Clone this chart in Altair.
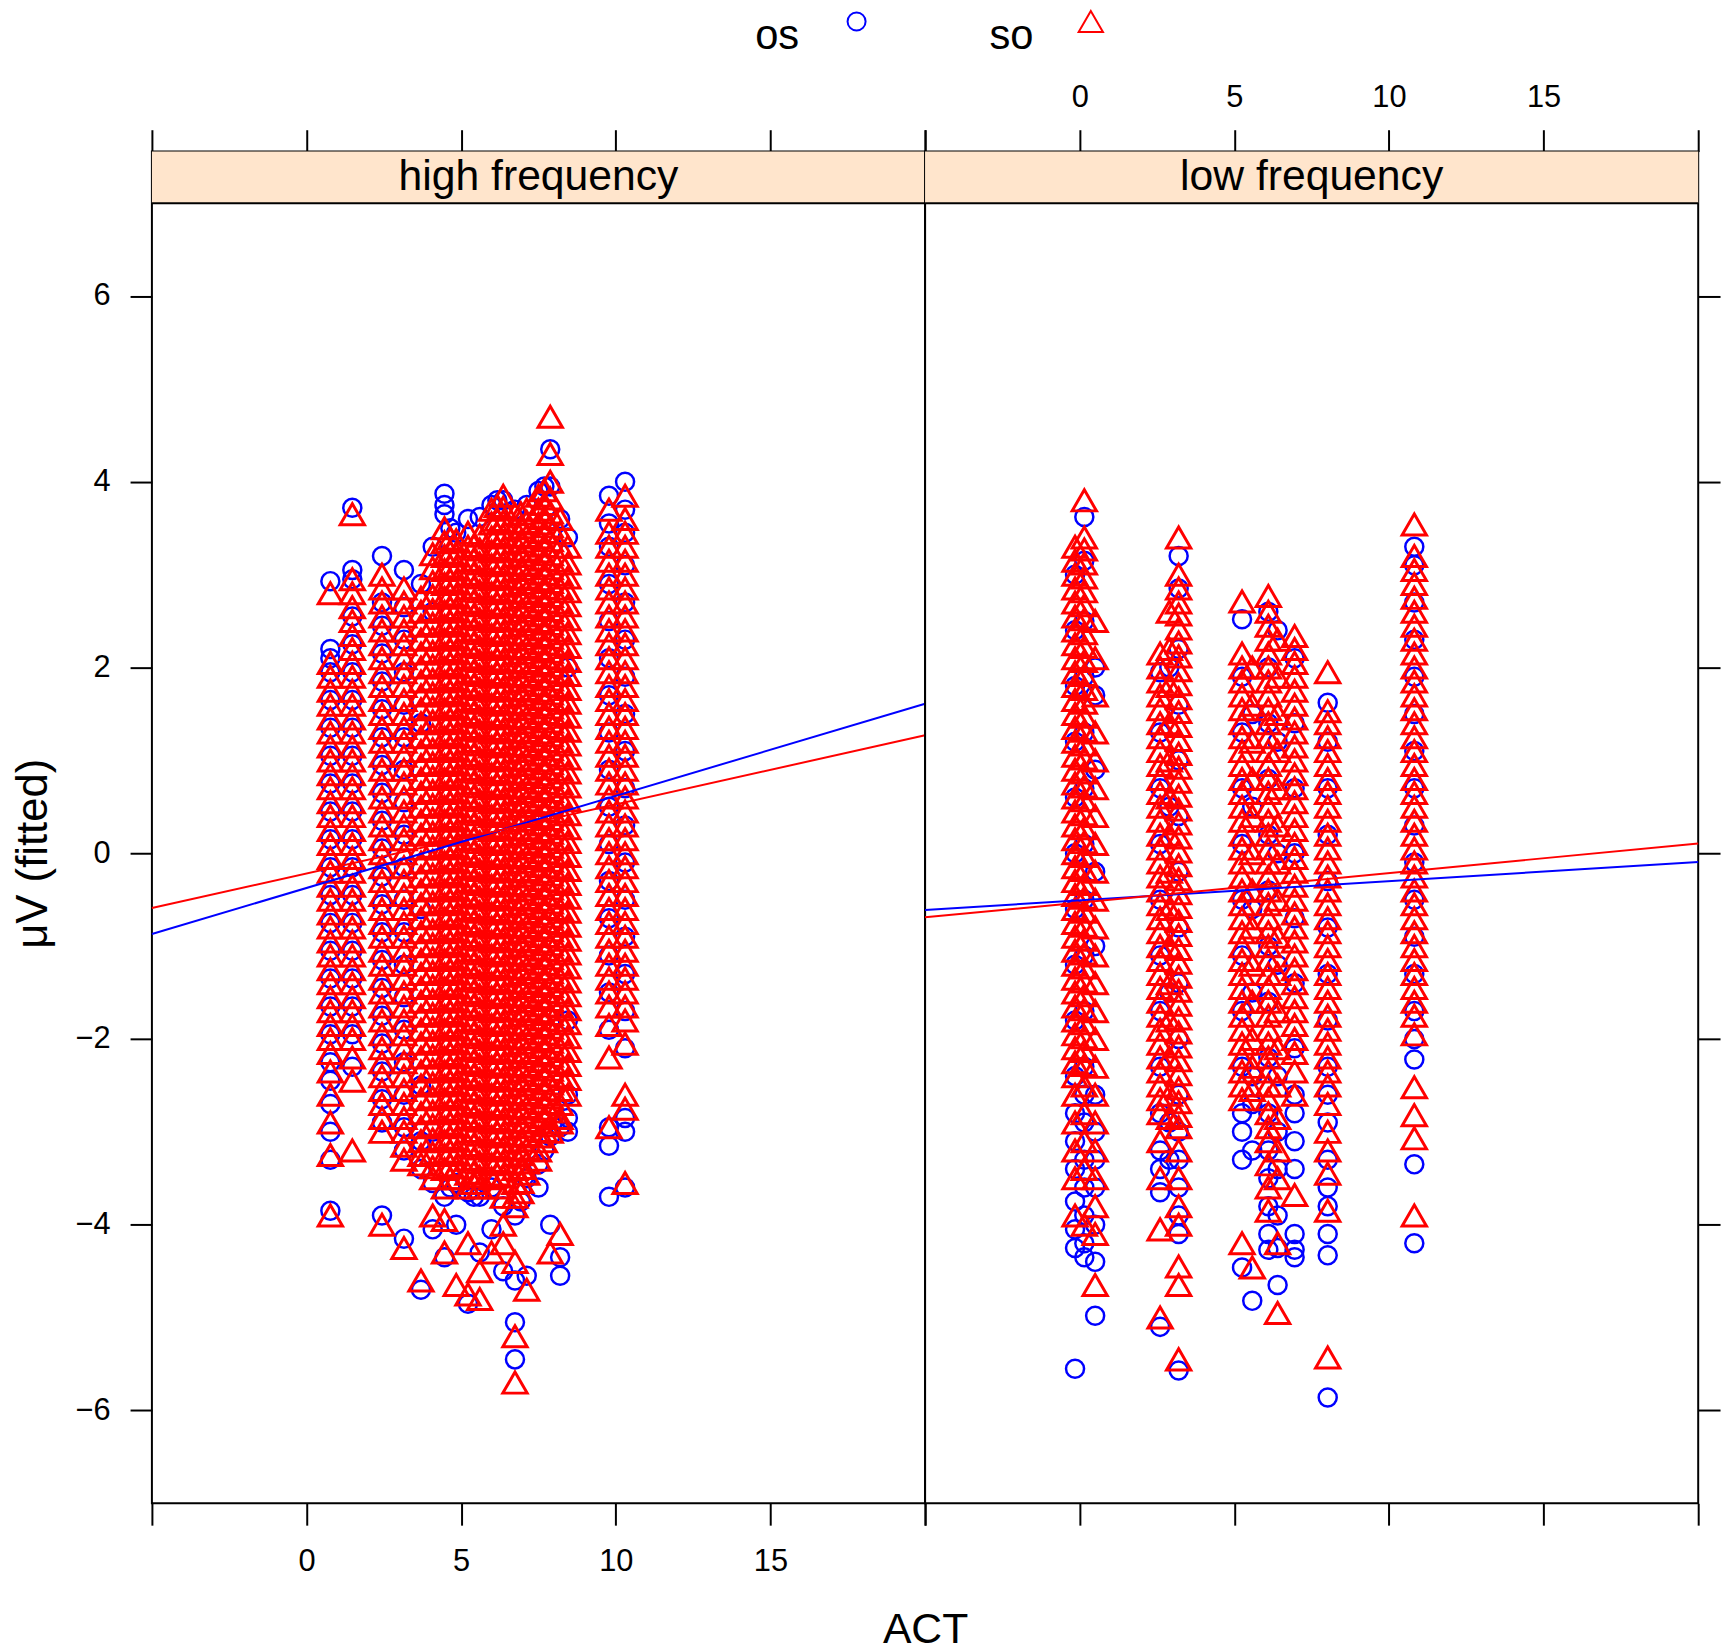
import altair as alt
import pandas as pd

FONT = "Liberation Sans"
BLUE = "#0000FF"
RED = "#FF0000"
STRIP_FILL = "#FFE5CC"

GROUPS = ["os", "so"]
SHAPES = ["circle", "triangle-up"]
COLORS = [BLUE, RED]
SIZES = [330, 600]
PANEL_NAMES = ["high frequency", "low frequency"]
X_TITLE = "ACT"
Y_TITLE = "μV (fitted)"

X_DOMAIN = [-5, 20]
Y_DOMAIN = [-7, 7]
X_TICKS = [-5, 0, 5, 10, 15, 20]
X_LABELLED = [0, 15]
Y_TICKS = [-6, -4, -2, 0, 2, 4, 6]

# ---------------- high frequency panel: ACT column positions and fitted µV values ----------------
HF_X = [0.77, 1.48, 2.44, 3.15, 3.7, 4.08, 4.46, 4.84, 5.22, 5.6, 5.98, 6.36, 6.74, 7.12,
        7.5, 7.88, 8.2, 8.45, 9.78, 10.3,
        4.65, 5.41, 6.17, 6.93, 7.69]
HF_OS = [
    [2.93, 2.2, 2.1, 1.95, 1.65, 1.35, 1.05, 0.75, 0.45, 0.15, -0.15, -0.45, -0.75, -1.05,
     -1.35, -1.65, -1.95, -2.25, -2.45, -2.7, -3.0, -3.3, -3.85],
    [3.72, 3.05, 2.95, 2.55, 2.25, 1.95, 1.65, 1.35, 1.05, 0.75, 0.45, 0.15, -0.15, -0.45,
     -0.75, -1.05, -1.35, -1.65, -1.95, -2.3],
    [3.2, 2.7, 2.45, 2.15, 1.85, 1.55, 1.25, 0.95, 0.65, 0.35, 0.05, -0.25, -0.55, -0.85, -1.15,
     -1.45, -1.75, -2.05, -2.35, -2.65, -2.9, -3.9],
    [3.05, 2.65, 2.3, 1.95, 1.6, 1.25, 0.9, 0.55, 0.2, -0.15, -0.5, -0.85, -1.2, -1.55, -1.9,
     -2.25, -2.6, -2.95, -3.2, -4.15],
    [2.9, 1.4, -0.6, -2.5, -3.1, -3.4, -4.7],
    [3.3, 2.6, -3.0, -3.55, -4.05],
    [3.87, 3.75, 3.65, -3.7, -4.35],
    [3.45, -3.55, -4.0],
    [3.6, -3.65, -4.85],
    [3.62, -3.7, -4.3],
    [3.75, -3.6, -4.05],
    [3.8, -3.8, -4.5],
    [3.7, -3.9, -4.6, -5.05, -5.45],
    [3.75, -3.5, -4.55],
    [3.9, -3.35, -3.6],
    [4.35, 3.95, -3.05, -4.0],
    [3.6, -2.95, -4.35, -4.55],
    [3.4, 2.0, -1.8, -2.6, -2.85, -3.0],
    [3.85, 3.55, 3.3, 2.9, 2.5, 2.1, 1.7, 1.3, 0.9, 0.5, 0.1, -0.3, -0.7, -1.1, -1.5, -1.9,
     -2.95, -3.15, -3.7],
    [4.0, 3.7, 3.45, 3.1, 2.7, 2.3, 1.9, 1.5, 1.1, 0.7, 0.3, -0.1, -0.5, -0.9, -1.3, -1.7, -2.1,
     -2.85, -3.0, -3.6],
    [3.5, -3.6],
    [-3.7],
    [3.8],
    [-3.75],
    [3.95, -3.2],
]
HF_SO = [
    [2.8, 2.05, 1.9, 1.75, 1.6, 1.45, 1.3, 1.15, 1.0, 0.85, 0.7, 0.55, 0.4, 0.25, 0.1, -0.05,
     -0.2, -0.35, -0.5, -0.65, -0.8, -0.95, -1.1, -1.25, -1.4, -1.55, -1.7, -1.85, -2.0, -2.15,
     -2.35, -2.6, -2.9, -3.25, -3.9],
    [3.65, 2.95, 2.8, 2.65, 2.5, 2.35, 2.2, 2.05, 1.9, 1.75, 1.6, 1.45, 1.3, 1.15, 1.0, 0.85,
     0.7, 0.55, 0.4, 0.25, 0.1, -0.05, -0.2, -0.35, -0.5, -0.65, -0.8, -0.95, -1.1, -1.25, -1.4,
     -1.55, -1.7, -1.85, -2.0, -2.2, -2.45, -3.2],
    [3.0, 2.85, 2.7, 2.55, 2.4, 2.25, 2.1, 1.95, 1.8, 1.65, 1.5, 1.35, 1.2, 1.05, 0.9, 0.75, 0.6,
     0.45, 0.3, 0.15, 0.0, -0.15, -0.3, -0.45, -0.6, -0.75, -0.9, -1.05, -1.2, -1.35, -1.5,
     -1.65, -1.8, -1.95, -2.1, -2.25, -2.4, -2.55, -2.7, -2.85, -3.0, -4.0],
    [2.85, 2.7, 2.55, 2.4, 2.25, 2.1, 1.95, 1.8, 1.65, 1.5, 1.35, 1.2, 1.05, 0.9, 0.75, 0.6, 0.45,
     0.3, 0.15, 0.0, -0.15, -0.3, -0.45, -0.6, -0.75, -0.9, -1.05, -1.2, -1.35, -1.5, -1.65,
     -1.8, -1.95, -2.1, -2.25, -2.4, -2.55, -2.7, -2.85, -3.0, -3.15, -3.3, -4.25],
    [2.75, 2.6, 2.45, 2.3, 2.15, 2.0, 1.85, 1.7, 1.55, 1.4, 1.25, 1.1, 0.95, 0.8, 0.65, 0.5, 0.35,
     0.2, 0.05, -0.1, -0.25, -0.4, -0.55, -0.7, -0.85, -1.0, -1.15, -1.3, -1.45, -1.6, -1.75,
     -1.9, -2.05, -2.2, -2.35, -2.5, -2.65, -2.8, -2.95, -3.1, -3.25, -3.35, -4.6],
    [3.22, 3.07, 2.92, 2.77, 2.62, 2.47, 2.32, 2.17, 2.02, 1.87, 1.72, 1.57, 1.42, 1.27, 1.12,
     0.97, 0.82, 0.67, 0.52, 0.37, 0.22, 0.07, -0.08, -0.23, -0.38, -0.53, -0.68, -0.83, -0.98,
     -1.13, -1.28, -1.43, -1.58, -1.73, -1.88, -2.03, -2.18, -2.33, -2.48, -2.63, -2.78, -2.93,
     -3.08, -3.23, -3.38, -3.5, -3.9],
    [3.5, 3.35, 3.2, 3.05, 2.9, 2.75, 2.6, 2.45, 2.3, 2.15, 2.0, 1.85, 1.7, 1.55, 1.4, 1.25, 1.1,
     0.95, 0.8, 0.65, 0.5, 0.35, 0.2, 0.05, -0.1, -0.25, -0.4, -0.55, -0.7, -0.85, -1.0, -1.15,
     -1.3, -1.45, -1.6, -1.75, -1.9, -2.05, -2.2, -2.35, -2.5, -2.65, -2.8, -2.95, -3.1, -3.25,
     -3.4, -3.6, -3.95, -4.3],
    [3.37, 3.22, 3.07, 2.92, 2.77, 2.62, 2.47, 2.32, 2.17, 2.02, 1.87, 1.72, 1.57, 1.42, 1.27,
     1.12, 0.97, 0.82, 0.67, 0.52, 0.37, 0.22, 0.07, -0.08, -0.23, -0.38, -0.53, -0.68, -0.83,
     -0.98, -1.13, -1.28, -1.43, -1.58, -1.73, -1.88, -2.03, -2.18, -2.33, -2.48, -2.63, -2.78,
     -2.93, -3.08, -3.23, -3.38, -3.5, -4.65],
    [3.45, 3.3, 3.15, 3.0, 2.85, 2.7, 2.55, 2.4, 2.25, 2.1, 1.95, 1.8, 1.65, 1.5, 1.35, 1.2, 1.05,
     0.9, 0.75, 0.6, 0.45, 0.3, 0.15, 0.0, -0.15, -0.3, -0.45, -0.6, -0.75, -0.9, -1.05, -1.2,
     -1.35, -1.5, -1.65, -1.8, -1.95, -2.1, -2.25, -2.4, -2.55, -2.7, -2.85, -3.0, -3.15, -3.3,
     -3.45, -3.6, -4.2, -4.75],
    [3.42, 3.27, 3.12, 2.97, 2.82, 2.67, 2.52, 2.37, 2.22, 2.07, 1.92, 1.77, 1.62, 1.47, 1.32,
     1.17, 1.02, 0.87, 0.72, 0.57, 0.42, 0.27, 0.12, -0.03, -0.18, -0.33, -0.48, -0.63, -0.78,
     -0.93, -1.08, -1.23, -1.38, -1.53, -1.68, -1.83, -1.98, -2.13, -2.28, -2.43, -2.58, -2.73,
     -2.88, -3.03, -3.18, -3.33, -3.48, -3.6, -4.5, -4.8],
    [3.7, 3.55, 3.4, 3.25, 3.1, 2.95, 2.8, 2.65, 2.5, 2.35, 2.2, 2.05, 1.9, 1.75, 1.6, 1.45, 1.3,
     1.15, 1.0, 0.85, 0.7, 0.55, 0.4, 0.25, 0.1, -0.05, -0.2, -0.35, -0.5, -0.65, -0.8, -0.95,
     -1.1, -1.25, -1.4, -1.55, -1.7, -1.85, -2.0, -2.15, -2.3, -2.45, -2.6, -2.75, -2.9, -3.05,
     -3.2, -3.35, -3.5, -4.3],
    [3.85, 3.72, 3.57, 3.42, 3.27, 3.12, 2.97, 2.82, 2.67, 2.52, 2.37, 2.22, 2.07, 1.92, 1.77,
     1.62, 1.47, 1.32, 1.17, 1.02, 0.87, 0.72, 0.57, 0.42, 0.27, 0.12, -0.03, -0.18, -0.33,
     -0.48, -0.63, -0.78, -0.93, -1.08, -1.23, -1.38, -1.53, -1.68, -1.83, -1.98, -2.13, -2.28,
     -2.43, -2.58, -2.73, -2.88, -3.03, -3.18, -3.33, -3.48, -3.7, -4.0, -4.2],
    [3.65, 3.5, 3.35, 3.2, 3.05, 2.9, 2.75, 2.6, 2.45, 2.3, 2.15, 2.0, 1.85, 1.7, 1.55, 1.4, 1.25,
     1.1, 0.95, 0.8, 0.65, 0.5, 0.35, 0.2, 0.05, -0.1, -0.25, -0.4, -0.55, -0.7, -0.85, -1.0,
     -1.15, -1.3, -1.45, -1.6, -1.75, -1.9, -2.05, -2.2, -2.35, -2.5, -2.65, -2.8, -2.95, -3.1,
     -3.25, -3.4, -3.55, -3.7, -3.8, -4.4, -5.2, -5.7],
    [3.7, 3.57, 3.42, 3.27, 3.12, 2.97, 2.82, 2.67, 2.52, 2.37, 2.22, 2.07, 1.92, 1.77, 1.62,
     1.47, 1.32, 1.17, 1.02, 0.87, 0.72, 0.57, 0.42, 0.27, 0.12, -0.03, -0.18, -0.33, -0.48,
     -0.63, -0.78, -0.93, -1.08, -1.23, -1.38, -1.53, -1.68, -1.83, -1.98, -2.13, -2.28, -2.43,
     -2.58, -2.73, -2.88, -3.03, -3.18, -3.33, -3.45, -4.7],
    [3.85, 3.7, 3.55, 3.4, 3.25, 3.1, 2.95, 2.8, 2.65, 2.5, 2.35, 2.2, 2.05, 1.9, 1.75, 1.6, 1.45,
     1.3, 1.15, 1.0, 0.85, 0.7, 0.55, 0.4, 0.25, 0.1, -0.05, -0.2, -0.35, -0.5, -0.65, -0.8,
     -0.95, -1.1, -1.25, -1.4, -1.55, -1.7, -1.85, -2.0, -2.15, -2.3, -2.45, -2.6, -2.75, -2.9,
     -3.05, -3.2, -3.3],
    [4.7, 4.3, 4.0, 3.82, 3.67, 3.52, 3.37, 3.22, 3.07, 2.92, 2.77, 2.62, 2.47, 2.32, 2.17, 2.02,
     1.87, 1.72, 1.57, 1.42, 1.27, 1.12, 0.97, 0.82, 0.67, 0.52, 0.37, 0.22, 0.07, -0.08, -0.23,
     -0.38, -0.53, -0.68, -0.83, -0.98, -1.13, -1.28, -1.43, -1.58, -1.73, -1.88, -2.03, -2.18,
     -2.33, -2.48, -2.63, -2.78, -2.93, -3.0, -4.3],
    [3.6, 3.45, 3.3, 3.15, 3.0, 2.85, 2.7, 2.55, 2.4, 2.25, 2.1, 1.95, 1.8, 1.65, 1.5, 1.35, 1.2,
     1.05, 0.9, 0.75, 0.6, 0.45, 0.3, 0.15, 0.0, -0.15, -0.3, -0.45, -0.6, -0.75, -0.9, -1.05,
     -1.2, -1.35, -1.5, -1.65, -1.8, -1.95, -2.1, -2.25, -2.4, -2.55, -2.7, -2.85, -2.9, -4.1],
    [3.3, 3.12, 2.97, 2.82, 2.67, 2.52, 2.37, 2.22, 2.07, 1.92, 1.77, 1.62, 1.47, 1.32, 1.17,
     1.02, 0.87, 0.72, 0.57, 0.42, 0.27, 0.12, -0.03, -0.18, -0.33, -0.48, -0.63, -0.78, -0.93,
     -1.08, -1.23, -1.38, -1.53, -1.68, -1.83, -1.98, -2.13, -2.28, -2.43, -2.6],
    [3.7, 3.45, 3.3, 3.15, 3.0, 2.85, 2.7, 2.55, 2.4, 2.25, 2.1, 1.95, 1.8, 1.65, 1.5, 1.35, 1.2,
     1.05, 0.9, 0.75, 0.6, 0.45, 0.3, 0.15, 0.0, -0.15, -0.3, -0.45, -0.6, -0.75, -0.9, -1.05,
     -1.2, -1.35, -1.5, -1.65, -1.85, -2.2, -2.95],
    [3.85, 3.6, 3.45, 3.3, 3.15, 3.0, 2.85, 2.7, 2.55, 2.4, 2.25, 2.1, 1.95, 1.8, 1.65, 1.5, 1.35,
     1.2, 1.05, 0.9, 0.75, 0.6, 0.45, 0.3, 0.15, 0.0, -0.15, -0.3, -0.45, -0.6, -0.75, -0.9,
     -1.05, -1.2, -1.35, -1.5, -1.65, -1.8, -2.05, -2.6, -2.75, -3.55],
    # in-between columns of the dense cloud
    [3.39, 3.24, 3.09, 2.94, 2.79, 2.64, 2.49, 2.34, 2.19, 2.04, 1.89, 1.74, 1.59, 1.44, 1.29,
     1.14, 0.99, 0.84, 0.69, 0.54, 0.39, 0.24, 0.09, -0.06, -0.21, -0.36, -0.51, -0.66, -0.81,
     -0.96, -1.11, -1.26, -1.41, -1.56, -1.71, -1.86, -2.01, -2.16, -2.31, -2.46, -2.61, -2.76,
     -2.91, -3.06, -3.21, -3.36, -3.5],
    [3.31, 3.16, 3.01, 2.86, 2.71, 2.56, 2.41, 2.26, 2.11, 1.96, 1.81, 1.66, 1.51, 1.36, 1.21,
     1.06, 0.91, 0.76, 0.61, 0.46, 0.31, 0.16, 0.01, -0.14, -0.29, -0.44, -0.59, -0.74, -0.89,
     -1.04, -1.19, -1.34, -1.49, -1.64, -1.79, -1.94, -2.09, -2.24, -2.39, -2.54, -2.69, -2.84,
     -2.99, -3.14, -3.29, -3.44, -3.55],
    [3.74, 3.59, 3.44, 3.29, 3.14, 2.99, 2.84, 2.69, 2.54, 2.39, 2.24, 2.09, 1.94, 1.79, 1.64,
     1.49, 1.34, 1.19, 1.04, 0.89, 0.74, 0.59, 0.44, 0.29, 0.14, -0.01, -0.16, -0.31, -0.46,
     -0.61, -0.76, -0.91, -1.06, -1.21, -1.36, -1.51, -1.66, -1.81, -1.96, -2.11, -2.26, -2.41,
     -2.56, -2.71, -2.86, -3.01, -3.16, -3.31, -3.46, -3.6],
    [3.66, 3.51, 3.36, 3.21, 3.06, 2.91, 2.76, 2.61, 2.46, 2.31, 2.16, 2.01, 1.86, 1.71, 1.56,
     1.41, 1.26, 1.11, 0.96, 0.81, 0.66, 0.51, 0.36, 0.21, 0.06, -0.09, -0.24, -0.39, -0.54,
     -0.69, -0.84, -0.99, -1.14, -1.29, -1.44, -1.59, -1.74, -1.89, -2.04, -2.19, -2.34, -2.49,
     -2.64, -2.79, -2.94, -3.09, -3.24, -3.39, -3.54, -3.65],
    [3.91, 3.76, 3.61, 3.46, 3.31, 3.16, 3.01, 2.86, 2.71, 2.56, 2.41, 2.26, 2.11, 1.96, 1.81,
     1.66, 1.51, 1.36, 1.21, 1.06, 0.91, 0.76, 0.61, 0.46, 0.31, 0.16, 0.01, -0.14, -0.29, -0.44,
     -0.59, -0.74, -0.89, -1.04, -1.19, -1.34, -1.49, -1.64, -1.79, -1.94, -2.09, -2.24, -2.39,
     -2.54, -2.69, -2.84, -2.99, -3.1],
]

# ---------------- low frequency panel ----------------
LF_X = [-0.15, 0.15, 0.5, 2.6, 2.9, 3.2, 5.25, 5.58, 6.1, 6.4, 6.95, 8.02, 10.82]
LF_OS = [
    [3.0, 2.4, 1.8, 1.2, 0.6, 0.0, -0.6, -1.2, -1.8, -2.4, -2.8, -3.1, -3.4, -3.75, -4.05, -4.25,
     -5.55],
    [3.62, 3.15, 2.5, 1.9, 1.3, 0.7, 0.1, -0.5, -1.1, -1.7, -2.3, -2.6, -2.9, -3.3, -3.6, -3.9,
     -4.2, -4.35],
    [2.0, 1.7, 0.9, -0.2, -1.0, -2.6, -3.0, -3.3, -3.6, -4.0, -4.4, -4.98],
    [1.95, 1.3, 0.7, 0.1, -0.5, -1.1, -1.7, -2.3, -2.8, -3.2, -3.4, -3.65, -5.1],
    [2.0, 0.5, -1.5, -2.9, -3.3],
    [3.2, 2.85, 2.2, 1.6, 1.0, 0.4, -0.2, -0.8, -1.4, -2.0, -2.6, -3.0, -3.3, -3.6, -3.9, -4.1,
     -5.57],
    [2.52, 1.9, 1.3, 0.7, 0.1, -0.5, -1.1, -1.7, -2.3, -2.8, -3.0, -3.3, -4.46],
    [1.5, 0.5, -0.6, -1.5, -2.4, -2.7, -3.2, -4.82],
    [2.6, 2.0, 1.4, 0.8, 0.2, -0.4, -1.0, -1.6, -2.2, -2.8, -3.2, -3.5, -3.8, -4.1, -4.27],
    [2.4, 1.2, 0.0, -1.2, -2.4, -3.0, -3.4, -3.9, -4.25, -4.65],
    [2.1, 1.4, 0.7, 0.0, -0.7, -1.4, -2.1, -2.6, -2.8, -3.1, -3.4, -4.1, -4.27, -4.35],
    [1.62, 1.2, 0.7, 0.2, -0.3, -0.8, -1.3, -1.8, -2.3, -2.6, -2.9, -3.3, -3.6, -3.8, -4.1, -4.33,
     -5.86],
    [3.3, 3.1, 2.7, 2.3, 1.9, 1.5, 1.1, 0.7, 0.3, -0.1, -0.5, -0.9, -1.3, -1.7, -2.0, -2.22,
     -3.35, -4.2],
]
LF_SO = [
    [3.3, 3.15, 3.0, 2.85, 2.7, 2.55, 2.4, 2.25, 2.1, 1.95, 1.8, 1.65, 1.5, 1.35, 1.2, 1.05, 0.9,
     0.75, 0.6, 0.45, 0.3, 0.15, 0.0, -0.15, -0.3, -0.45, -0.6, -0.75, -0.9, -1.05, -1.2, -1.35,
     -1.5, -1.65, -1.8, -1.95, -2.1, -2.25, -2.4, -2.6, -2.9, -3.2, -3.5, -3.9],
    [3.8, 3.4, 3.27, 3.12, 2.97, 2.82, 2.67, 2.52, 2.37, 2.22, 2.07, 1.92, 1.77, 1.62, 1.47, 1.32,
     1.17, 1.02, 0.87, 0.72, 0.57, 0.42, 0.27, 0.12, -0.03, -0.18, -0.33, -0.48, -0.63, -0.78,
     -0.93, -1.08, -1.23, -1.38, -1.53, -1.68, -1.83, -1.98, -2.13, -2.28, -2.5, -2.8, -3.1,
     -3.4, -4.0],
    [2.5, 2.1, 1.7, 1.3, 1.0, 0.7, 0.4, 0.1, -0.2, -0.5, -0.8, -1.1, -1.4, -1.7, -2.0, -2.3, -2.6,
     -2.9, -3.2, -3.5, -3.8, -4.1, -4.65],
    [2.15, 2.0, 1.85, 1.7, 1.55, 1.4, 1.25, 1.1, 0.95, 0.8, 0.65, 0.5, 0.35, 0.2, 0.05, -0.1,
     -0.25, -0.4, -0.55, -0.7, -0.85, -1.0, -1.15, -1.3, -1.45, -1.6, -1.75, -1.9, -2.05, -2.2,
     -2.35, -2.5, -2.65, -2.8, -3.1, -3.5, -4.05, -5.0],
    [2.6, 2.2, 1.8, 1.4, 1.0, 0.6, 0.2, -0.2, -0.6, -1.0, -1.4, -1.8, -2.2, -2.6, -2.85],
    [3.4, 3.0, 2.85, 2.7, 2.57, 2.42, 2.27, 2.12, 1.97, 1.82, 1.67, 1.52, 1.37, 1.22, 1.07, 0.92,
     0.77, 0.62, 0.47, 0.32, 0.17, 0.02, -0.13, -0.28, -0.43, -0.58, -0.73, -0.88, -1.03, -1.18,
     -1.33, -1.48, -1.63, -1.78, -1.93, -2.08, -2.23, -2.38, -2.53, -2.68, -2.83, -2.95, -3.2,
     -3.5, -3.8, -4.0, -4.45, -4.65, -5.45],
    [2.71, 2.15, 2.0, 1.85, 1.7, 1.55, 1.4, 1.25, 1.1, 0.95, 0.8, 0.65, 0.5, 0.35, 0.2, 0.05,
     -0.1, -0.25, -0.4, -0.55, -0.7, -0.85, -1.0, -1.15, -1.3, -1.45, -1.6, -1.75, -1.9, -2.05,
     -2.2, -2.35, -2.5, -2.65, -4.2],
    [2.0, 1.6, 1.2, 0.8, 0.4, 0.0, -0.4, -0.8, -1.2, -1.6, -2.0, -2.3, -2.55, -4.46],
    [2.77, 2.6, 2.45, 2.3, 2.15, 2.0, 1.85, 1.7, 1.55, 1.4, 1.25, 1.1, 0.95, 0.8, 0.65, 0.5, 0.35,
     0.2, 0.05, -0.1, -0.25, -0.4, -0.55, -0.7, -0.85, -1.0, -1.15, -1.3, -1.45, -1.6, -1.75,
     -1.9, -2.05, -2.2, -2.35, -2.5, -2.65, -2.8, -2.95, -3.1, -3.35, -3.6, -3.85],
    [2.3, 1.9, 1.5, 1.1, 0.7, 0.3, -0.1, -0.5, -0.9, -1.3, -1.7, -2.1, -2.5, -2.85, -3.2, -3.5,
     -4.2, -4.95],
    [2.34, 2.2, 2.05, 1.9, 1.75, 1.6, 1.45, 1.3, 1.15, 1.0, 0.85, 0.7, 0.55, 0.4, 0.25, 0.1,
     -0.05, -0.2, -0.35, -0.5, -0.65, -0.8, -0.95, -1.1, -1.25, -1.4, -1.55, -1.7, -1.85, -2.0,
     -2.15, -2.35, -2.6, -3.68],
    [1.95, 1.53, 1.4, 1.25, 1.1, 0.95, 0.8, 0.65, 0.5, 0.35, 0.2, 0.05, -0.1, -0.25, -0.4, -0.55,
     -0.7, -0.85, -1.0, -1.15, -1.3, -1.45, -1.6, -1.75, -1.9, -2.05, -2.2, -2.35, -2.5, -2.7,
     -3.0, -3.2, -3.45, -3.85, -5.43],
    [3.54, 3.2, 3.05, 2.9, 2.75, 2.6, 2.45, 2.3, 2.15, 2.0, 1.85, 1.7, 1.55, 1.4, 1.25, 1.1, 0.95,
     0.8, 0.65, 0.5, 0.35, 0.2, 0.05, -0.1, -0.25, -0.4, -0.55, -0.7, -0.85, -1.0, -1.15, -1.3,
     -1.45, -1.6, -1.75, -1.95, -2.52, -2.82, -3.07, -3.9],
]

# fitted regression lines, values at ACT = -5 and ACT = 20
LINE_X = [-5, 20]
HF_LINE_OS = [-0.87, 1.61]
HF_LINE_SO = [-0.59, 1.27]
LF_LINE_OS = [-0.61, -0.095]
LF_LINE_SO = [-0.69, 0.105]

# ---------------- layout ----------------
PANEL_W = 779
PANEL_H = 1310
STRIP_PX = 52
PX_PER_Y = PANEL_H / (Y_DOMAIN[1] - Y_DOMAIN[0])
STRIP_UNITS = STRIP_PX / PX_PER_Y
VIEW_H = PANEL_H + STRIP_PX
TICK = 22
TICK_FONT = 31
BIG_FONT = 43
MARK_STROKE = 3


def make_points(xs, os_lists, so_lists):
    rows = []
    for x, a, b in zip(xs, os_lists, so_lists):
        rows += [(x, v, "os") for v in a]
        rows += [(x, v, "so") for v in b]
    return pd.DataFrame(rows, columns=["ACT", "uV", "grp"])


def make_panel(name, pts, line_os, line_so, first):
    xsc = alt.Scale(domain=X_DOMAIN, nice=False, zero=False)
    ysc = alt.Scale(domain=[Y_DOMAIN[0], Y_DOMAIN[1] + STRIP_UNITS], nice=False, zero=False)
    label_expr = (f"datum.value >= {X_LABELLED[0]} && datum.value <= {X_LABELLED[1]}"
                  " ? datum.label : ''")
    common = dict(values=X_TICKS, tickSize=TICK, tickWidth=2, tickColor="black", domain=False,
                  grid=False, labelFontSize=TICK_FONT, labelFont=FONT, labelColor="black",
                  labelFlush=False, labelExpr=label_expr)
    if first:
        ax_bottom = alt.Axis(orient="bottom", labels=True, labelPadding=22, title=X_TITLE,
                             titleFont=FONT, titleFontSize=BIG_FONT, titleFontWeight="normal",
                             titleColor="black", titleX=PANEL_W, titleY=127,
                             titleBaseline="middle", titleAlign="center", **common)
    else:
        ax_bottom = alt.Axis(orient="bottom", labels=False, title=None, **common)
    ax_top = alt.Axis(orient="top", labels=not first, labelPadding=16, title=None, **common)
    ycommon = dict(values=Y_TICKS, tickSize=TICK, tickWidth=2, tickColor="black", domain=False,
                   grid=False, labelFontSize=TICK_FONT, labelFont=FONT, labelColor="black",
                   labelPadding=20)
    if first:
        ay = alt.Axis(orient="left", title=Y_TITLE, titleFont=FONT, titleFontSize=44,
                      titleFontWeight="normal", titleColor="black", titleX=-119.5,
                      titleY=STRIP_PX + PANEL_H / 2, titleAngle=270, titleBaseline="middle",
                      titleAlign="center", **ycommon)
        ay_strip = None
    else:
        ay = None
        ay_strip = alt.Axis(orient="right", labels=False, title=None, **ycommon)

    X = alt.X("ACT:Q", scale=xsc, axis=ax_bottom)
    Y = alt.Y("uV:Q", scale=ysc, axis=ay)
    os_pts = alt.Chart(pts[pts.grp == "os"]).mark_point(
        shape=SHAPES[0], size=SIZES[0], filled=False, strokeWidth=MARK_STROKE - 0.5,
        color=COLORS[0], opacity=1
    ).encode(x=X, y=Y)
    so_pts = alt.Chart(pts[pts.grp == "so"]).mark_point(
        shape=SHAPES[1], size=SIZES[1], filled=False, strokeWidth=MARK_STROKE, color=COLORS[1],
        opacity=1
    ).encode(x=X, y=Y)
    line_df = pd.DataFrame({"ACT": LINE_X * 2, "uV": line_os + line_so,
                            "grp": [GROUPS[0]] * 2 + [GROUPS[1]] * 2})
    lines = alt.Chart(line_df).mark_line(strokeWidth=2).encode(
        x=X, y=Y,
        color=alt.Color("grp:N", scale=alt.Scale(domain=GROUPS, range=COLORS), legend=None))

    strip_df = pd.DataFrame({
        "x0": [X_DOMAIN[0]], "x1": [X_DOMAIN[1]], "xc": [sum(X_DOMAIN) / 2],
        "y0": [Y_DOMAIN[1]], "y1": [Y_DOMAIN[1] + STRIP_UNITS],
        "yc": [Y_DOMAIN[1] + STRIP_UNITS / 2], "label": [name]})
    XS = alt.X("x0:Q", scale=xsc, axis=ax_top)
    YS = alt.Y("y0:Q", scale=ysc, axis=ay_strip)
    rect = alt.Chart(strip_df).mark_rect(fill=STRIP_FILL).encode(x=XS, x2="x1", y=YS, y2="y1")
    rule = alt.Chart(strip_df).mark_rule(color="black", strokeWidth=2).encode(x=XS, x2="x1", y=YS)
    txt = alt.Chart(strip_df).mark_text(font=FONT, fontSize=BIG_FONT, color="black",
                                        baseline="middle").encode(
        x=alt.X("xc:Q", scale=xsc, axis=ax_top),
        y=alt.Y("yc:Q", scale=ysc, axis=ay_strip),
        text="label:N")

    main = alt.layer(os_pts, so_pts, lines)
    strip = alt.layer(rect, rule, txt)
    return alt.layer(main, strip).resolve_scale(x="independent", y="independent").properties(
        width=PANEL_W, height=VIEW_H)


hf = make_panel(PANEL_NAMES[0], make_points(HF_X, HF_OS, HF_SO), HF_LINE_OS, HF_LINE_SO, True)
lf = make_panel(PANEL_NAMES[1], make_points(LF_X, LF_OS, LF_SO), LF_LINE_OS, LF_LINE_SO, False)
panels = alt.hconcat(hf, lf, spacing=0, bounds="flush")

# key row (label followed by its symbol, as in the original key)
leg_df = pd.DataFrame({"grp": GROUPS})
leg_x = alt.X("grp:N", scale=alt.Scale(type="point", domain=GROUPS, range=[630, 866], padding=0),
              axis=None)
leg_text = alt.Chart(leg_df).mark_text(font=FONT, fontSize=42, color="black",
                                       baseline="middle", dy=-2).encode(x=leg_x, text="grp:N")
leg_sym = alt.Chart(leg_df).mark_point(filled=False, strokeWidth=2, opacity=1, xOffset=80,
                                       yOffset=-16.5).encode(
    x=leg_x,
    shape=alt.Shape("grp:N", scale=alt.Scale(domain=GROUPS, range=SHAPES), legend=None),
    color=alt.Color("grp:N", scale=alt.Scale(domain=GROUPS, range=COLORS), legend=None),
    size=alt.Size("grp:N", scale=alt.Scale(domain=GROUPS, range=SIZES), legend=None))
legend = alt.layer(leg_text, leg_sym).properties(
    width=2 * PANEL_W, height=41, view=alt.ViewBackground(stroke="transparent"))

chart = alt.vconcat(legend, panels, spacing=94, bounds="flush").properties(
    padding={"left": 2, "top": -8.6, "right": 3, "bottom": 0}
).configure_view(stroke="black", strokeWidth=2)

chart.save("out.html", embed_options={"renderer": "svg", "actions": False})
